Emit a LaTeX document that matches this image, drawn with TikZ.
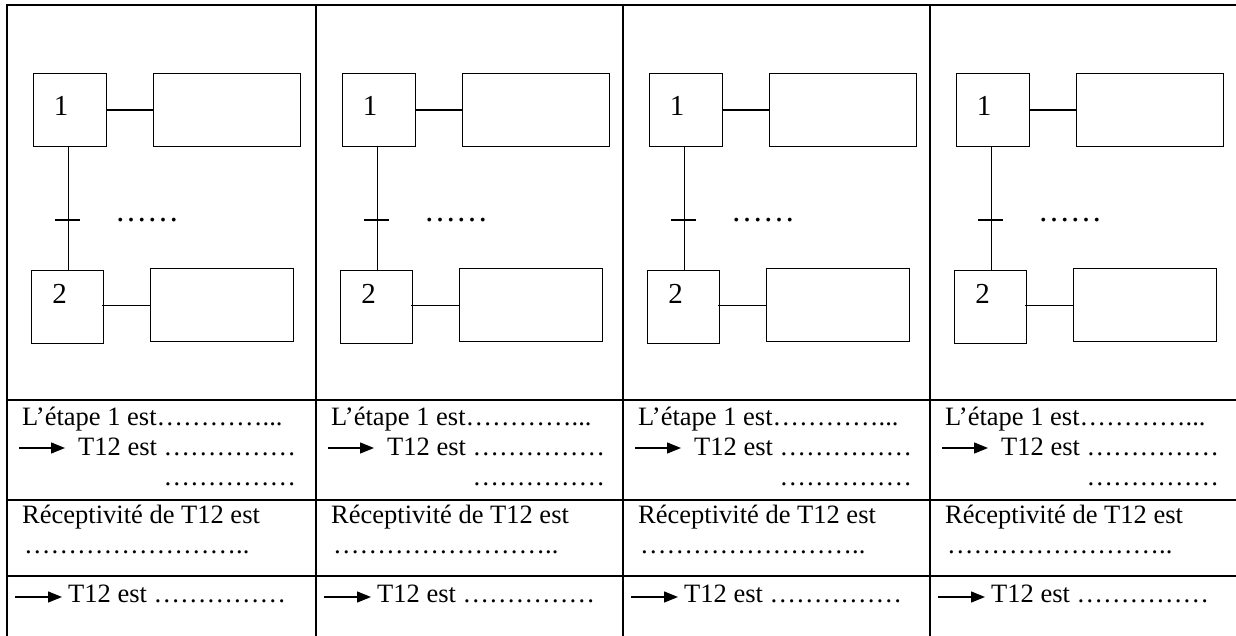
\documentclass[tikz,border=0pt]{standalone}
\usepackage{fontspec}
\setmainfont{Liberation Serif}
\usetikzlibrary{arrows.meta}
\begin{document}
\begin{tikzpicture}[x=1pt,y=-1pt,
  grid/.style={line width=2pt},
  stepbox/.style={draw,line width=1.3pt,minimum width=73pt,minimum height=73pt,inner sep=0pt,anchor=north west},
  actbox/.style={draw,line width=1.3pt,minimum width=147pt,minimum height=73pt,inner sep=0pt,anchor=north west},
  link/.style={line width=1.3pt},
  txt/.style={anchor=base west,inner sep=0pt,font=\fontsize{26.5}{30}\selectfont},
  num/.style={anchor=base,inner sep=0pt,font=\fontsize{29}{34}\selectfont},
  blank/.style={anchor=base west,inner sep=0pt,font=\fontsize{32}{38}\selectfont},
  pointer/.style={line width=1.3pt,-{Triangle[length=14pt,width=11pt]}}
]
\useasboundingbox (0,0) rectangle (1236,636);

% table frame and rules
\draw[grid] (1236,5) -- (7,5) -- (7,636);
\foreach \x in {316,623,930} \draw[grid] (\x,5) -- (\x,636);
\foreach \y in {400,500,576} \draw[grid] (7,\y) -- (1236,\y);

% one Grafcet fragment and its questions per column
\foreach \c [count=\i] in {7,316,623,930} {
  \begin{scope}[shift={(\c,0)}]
    % steps and actions
    \node[stepbox] (s1-\i) at (26,73) {};
    \node[actbox] (a1-\i) at (146,73) {};
    \node[stepbox,minimum width=72pt] (s2-\i) at (24,270) {};
    \node[actbox,minimum width=143pt] (a2-\i) at (143,268) {};
    \node[num] (n1-\i) at (54,116) {1};
    \node[num] (n2-\i) at (52.5,303) {2};
    \draw[link] (s1-\i.east) -- (a1-\i.west);
    \draw[link] ([xshift=-2pt]a2-\i.west -| s2-\i.east) -- (a2-\i.west);
    % transition T12
    \coordinate (t-\i) at (61.5,220);
    \draw[link] (s1-\i.south -| t-\i) -- (s2-\i.north -| t-\i);
    \draw[link] ([xshift=-13.5pt]t-\i) -- ([xshift=11.5pt]t-\i);
    \node[blank] (r-\i) at (108,222) {……};
    % first row
    \node[txt] (e-\i) at (15,425) {L’étape 1 est…………...};
    \node[txt] (l2-\i) at (71,455) {T12 est ……………};
    \node[txt,anchor=base east] (l3-\i) at ([yshift=-30pt]l2-\i.base east) {……………};
    \coordinate (p1-\i) at (12,448);
    \coordinate (q1-\i) at (58,448);
    \draw[pointer] (p1-\i) -- (q1-\i);
    % second row
    \node[txt] (rc-\i) at (15,523) {Réceptivité de T12 est};
    \node[txt] (rd-\i) at (17,553) {……………………..};
    % third row
    \node[txt] (l4-\i) at (61,602) {T12 est ……………};
    \coordinate (p2-\i) at (8,597);
    \coordinate (q2-\i) at (55,597);
    \draw[pointer] (p2-\i) -- (q2-\i);
  \end{scope}
}
\end{tikzpicture}
\end{document}
